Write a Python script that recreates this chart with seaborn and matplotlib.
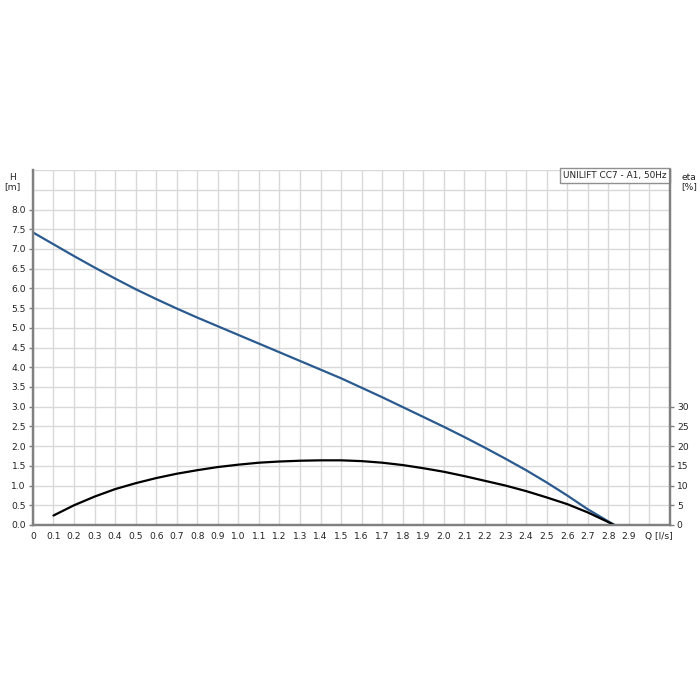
import numpy as np
import pandas as pd
import matplotlib
matplotlib.use("Agg")
import matplotlib.pyplot as plt
import matplotlib.transforms as mtransforms
import seaborn as sns

# Pump curve
q_head = [0.0, 0.1, 0.2, 0.3, 0.4, 0.5, 0.6, 0.7, 0.8, 0.9, 1.0, 1.1, 1.2, 1.3, 1.4,
          1.5, 1.6, 1.7, 1.8, 1.9, 2.0, 2.1, 2.2, 2.3, 2.4, 2.5, 2.6, 2.7, 2.83]
head = [7.42, 7.12, 6.82, 6.53, 6.25, 5.98, 5.73, 5.49, 5.26, 5.04, 4.82, 4.60, 4.38, 4.16, 3.94,
        3.72, 3.48, 3.24, 2.99, 2.74, 2.49, 2.23, 1.96, 1.68, 1.39, 1.08, 0.75, 0.40, 0.0]

q_eta = [0.1, 0.2, 0.3, 0.4, 0.5, 0.6, 0.7, 0.8, 0.9, 1.0, 1.1, 1.2, 1.3, 1.4,
         1.5, 1.6, 1.7, 1.8, 1.9, 2.0, 2.1, 2.2, 2.3, 2.4, 2.5, 2.6, 2.7, 2.83]
eta = [2.4, 5.0, 7.2, 9.1, 10.6, 11.9, 13.0, 13.9, 14.7, 15.3, 15.8, 16.1, 16.3, 16.4,
       16.4, 16.2, 15.8, 15.2, 14.4, 13.5, 12.4, 11.2, 10.0, 8.6, 7.0, 5.3, 3.2, 0.0]

x_ticks = [round(i * 0.1, 1) for i in range(31)]
x_labels = ["0"] + [f"{v:.1f}" for v in x_ticks[1:-1]] + ["Q [l/s]"]
h_ticks = [i * 0.5 for i in range(17)]
eta_ticks = [0, 5, 10, 15, 20, 25, 30]

title = "UNILIFT CC7 - A1, 50Hz"

sns.set_style("white")
plt.rcParams['font.family'] = ['DejaVu Sans']

df_h = pd.DataFrame({"Q": q_head, "H": head})
df_eta = pd.DataFrame({"Q": q_eta, "eta": eta})

fig = plt.figure(figsize=(7, 7), dpi=100)
ax = fig.add_axes([0.047, 0.25, 0.91, 0.507])
ax2 = ax.twinx()

sns.lineplot(data=df_h, x="Q", y="H", ax=ax, color="#2b5a8e", linewidth=1.6, sort=False)
sns.lineplot(data=df_eta, x="Q", y="eta", ax=ax2, color="black", linewidth=1.6, sort=False)

ax.set_xlim(0, 3.1)
ax.set_ylim(0, 9)
ax2.set_ylim(0, 90)

# grid every 0.1 l/s and 0.5 m
ax.set_xticks(x_ticks)
ax.set_xticklabels(x_labels)
ax.set_xticks([3.1], minor=True)
ax.set_yticks(h_ticks)
ax.set_yticklabels([f"{v:.1f}" for v in h_ticks])
ax.set_yticks([8.5, 9.0], minor=True)
ax.grid(True, which="both", color="#d9d9d9", linewidth=1.0)
ax.set_axisbelow(True)

ax2.set_yticks(eta_ticks)
ax2.set_yticklabels([str(v) for v in eta_ticks])
ax2.grid(False)

ax.set_xlabel("")
ax.set_ylabel("")
ax2.set_ylabel("")

fs = 6.6
for a in (ax, ax2):
    for s in ("left", "bottom", "right"):
        a.spines[s].set_color("#808080")
        a.spines[s].set_linewidth(1.6)
    a.spines["top"].set_visible(False)
    a.tick_params(which="both", length=3, width=1, color="#808080",
                  labelsize=fs, labelcolor="#222222", pad=2)
ax.tick_params(axis="y", which="minor", length=0)
ax.tick_params(axis="x", which="minor", length=0)

# nudge the "Q [l/s]" label right like the original
q_lab = ax.get_xticklabels()[-1]
q_lab.set_transform(q_lab.get_transform() + mtransforms.ScaledTranslation(7 / 72, 0, fig.dpi_scale_trans))

fig.text(12 / 700, 1 - 177 / 700, "H", fontsize=fs, color="#222222", ha="center", va="center")
fig.text(12 / 700, 1 - 187 / 700, "[m]", fontsize=fs, color="#222222", ha="center", va="center")
fig.text(689 / 700, 1 - 177 / 700, "eta", fontsize=fs, color="#222222", ha="center", va="center")
fig.text(689 / 700, 1 - 187 / 700, "[%]", fontsize=fs, color="#222222", ha="center", va="center")

ax.text(0.995, 0.998, title, transform=ax.transAxes, ha="right", va="top",
        fontsize=6.4, color="#222222", zorder=5,
        bbox=dict(facecolor="white", edgecolor="#909090", boxstyle="square,pad=0.35", linewidth=1))

fig.savefig("out.png", dpi=100, facecolor="white")
